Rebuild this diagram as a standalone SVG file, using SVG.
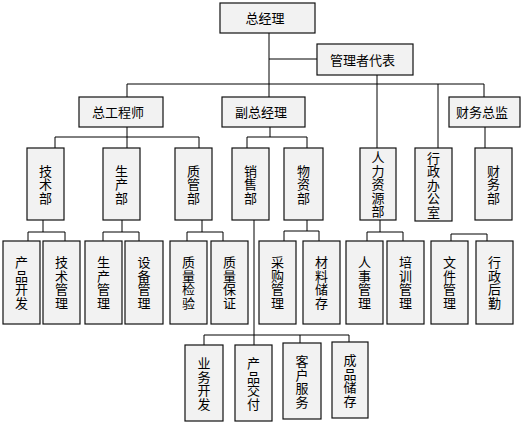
<svg xmlns="http://www.w3.org/2000/svg" width="526" height="423" viewBox="0 0 526 423">
<style>
.b{fill:#f2f2f2;stroke:#111;stroke-width:1.2}
.t{font-family:"Noto Sans CJK SC","Noto Sans",sans-serif;font-size:13px;fill:#000;text-anchor:middle}
.c{fill:none;stroke:#000;stroke-width:1}
</style>
<rect width="526" height="423" fill="#fff"/>
<g id="connectors" class="c">
<path d="M269 33V97M269 59H317M377 75V148M127 84H484M127 84V97M484 84V97M438 84V148"/>
<path d="M127 127V148M55 137H199M55 137V148M199 137V148"/>
<path d="M270 127V137M247 137H307M247 137V148M307 137V148"/>
<path d="M485 127V148"/>
<path d="M43 220V232M28 232H65M28 232V241M65 232V241"/>
<path d="M122 220V232M103 232H139M103 232V241M139 232V241"/>
<path d="M202 220V232M187 232H223M187 232V241M223 232V241"/>
<path d="M307 220V231M284 231H319M284 231V241M319 231V241"/>
<path d="M380 220V232M367 232H403M367 232V241M403 232V241"/>
<path d="M451 234H487M451 234V241M487 234V241"/>
<path d="M254 220V345M204 335H349M204 335V345M300 335V343M349 335V342"/>
</g>
<g id="n_gm"><rect class="b" x="220" y="3" width="95" height="30"/><text class="t" x="265" y="23">总经理</text></g>
<g id="n_rep"><rect class="b" x="317" y="44" width="96" height="31"/><text class="t" x="362.5" y="64.5">管理者代表</text></g>
<g id="n_cte"><rect class="b" x="79" y="97" width="84" height="30"/><text class="t" x="118" y="117">总工程师</text></g>
<g id="n_vgm"><rect class="b" x="222" y="97" width="83" height="30"/><text class="t" x="261" y="117">副总经理</text></g>
<g id="n_cfo"><rect class="b" x="449" y="97" width="71" height="30"/><text class="t" x="482" y="117">财务总监</text></g>

<g id="n_jsb"><rect class="b" x="27" y="148" width="37" height="72"/><text class="t" x="45.5" y="175.5"><tspan x="45.5">技</tspan><tspan x="45.5" dy="13.5">术</tspan><tspan x="45.5" dy="13.5">部</tspan></text></g>
<g id="n_scb"><rect class="b" x="103" y="148" width="37" height="72"/><text class="t" x="121.5" y="175.5"><tspan x="121.5">生</tspan><tspan x="121.5" dy="13.5">产</tspan><tspan x="121.5" dy="13.5">部</tspan></text></g>
<g id="n_zgb"><rect class="b" x="175" y="148" width="37" height="72"/><text class="t" x="193.5" y="175.5"><tspan x="193.5">质</tspan><tspan x="193.5" dy="13.5">管</tspan><tspan x="193.5" dy="13.5">部</tspan></text></g>
<g id="n_xsb"><rect class="b" x="232" y="148" width="37" height="72"/><text class="t" x="250.5" y="175.5"><tspan x="250.5">销</tspan><tspan x="250.5" dy="13.5">售</tspan><tspan x="250.5" dy="13.5">部</tspan></text></g>
<g id="n_wzb"><rect class="b" x="284" y="148" width="39" height="72"/><text class="t" x="303.5" y="175.5"><tspan x="303.5">物</tspan><tspan x="303.5" dy="13.5">资</tspan><tspan x="303.5" dy="13.5">部</tspan></text></g>
<g id="n_rlzyb"><rect class="b" x="360" y="148" width="36" height="72"/><text class="t" x="378" y="162"><tspan x="378">人</tspan><tspan x="378" dy="13.5">力</tspan><tspan x="378" dy="13.5">资</tspan><tspan x="378" dy="13.5">源</tspan><tspan x="378" dy="13.5">部</tspan></text></g>
<g id="n_xzbgs"><rect class="b" x="415" y="148" width="37" height="73"/><text class="t" x="433.5" y="162.5"><tspan x="433.5">行</tspan><tspan x="433.5" dy="13.5">政</tspan><tspan x="433.5" dy="13.5">办</tspan><tspan x="433.5" dy="13.5">公</tspan><tspan x="433.5" dy="13.5">室</tspan></text></g>
<g id="n_cwb"><rect class="b" x="475" y="148" width="37" height="72"/><text class="t" x="493.5" y="175.5"><tspan x="493.5">财</tspan><tspan x="493.5" dy="13.5">务</tspan><tspan x="493.5" dy="13.5">部</tspan></text></g>

<g id="n_cpkf"><rect class="b" x="3" y="241" width="37" height="83"/><text class="t" x="21.5" y="267"><tspan x="21.5">产</tspan><tspan x="21.5" dy="13.5">品</tspan><tspan x="21.5" dy="13.5">开</tspan><tspan x="21.5" dy="13.5">发</tspan></text></g>
<g id="n_jsgl"><rect class="b" x="43" y="241" width="37" height="83"/><text class="t" x="61.5" y="267"><tspan x="61.5">技</tspan><tspan x="61.5" dy="13.5">术</tspan><tspan x="61.5" dy="13.5">管</tspan><tspan x="61.5" dy="13.5">理</tspan></text></g>
<g id="n_scgl"><rect class="b" x="85" y="241" width="37" height="83"/><text class="t" x="103.5" y="267"><tspan x="103.5">生</tspan><tspan x="103.5" dy="13.5">产</tspan><tspan x="103.5" dy="13.5">管</tspan><tspan x="103.5" dy="13.5">理</tspan></text></g>
<g id="n_sbgl"><rect class="b" x="125" y="241" width="38" height="83"/><text class="t" x="144" y="267"><tspan x="144">设</tspan><tspan x="144" dy="13.5">备</tspan><tspan x="144" dy="13.5">管</tspan><tspan x="144" dy="13.5">理</tspan></text></g>
<g id="n_zljy"><rect class="b" x="170" y="241" width="37" height="83"/><text class="t" x="188.5" y="267"><tspan x="188.5">质</tspan><tspan x="188.5" dy="13.5">量</tspan><tspan x="188.5" dy="13.5">检</tspan><tspan x="188.5" dy="13.5">验</tspan></text></g>
<g id="n_zlbz"><rect class="b" x="211" y="241" width="37" height="83"/><text class="t" x="229.5" y="267"><tspan x="229.5">质</tspan><tspan x="229.5" dy="13.5">量</tspan><tspan x="229.5" dy="13.5">保</tspan><tspan x="229.5" dy="13.5">证</tspan></text></g>
<g id="n_cggl"><rect class="b" x="259" y="241" width="37" height="83"/><text class="t" x="277.5" y="267"><tspan x="277.5">采</tspan><tspan x="277.5" dy="13.5">购</tspan><tspan x="277.5" dy="13.5">管</tspan><tspan x="277.5" dy="13.5">理</tspan></text></g>
<g id="n_clcc"><rect class="b" x="303" y="241" width="37" height="83"/><text class="t" x="321.5" y="267"><tspan x="321.5">材</tspan><tspan x="321.5" dy="13.5">料</tspan><tspan x="321.5" dy="13.5">储</tspan><tspan x="321.5" dy="13.5">存</tspan></text></g>
<g id="n_rsgl"><rect class="b" x="346" y="241" width="37" height="83"/><text class="t" x="364.5" y="267"><tspan x="364.5">人</tspan><tspan x="364.5" dy="13.5">事</tspan><tspan x="364.5" dy="13.5">管</tspan><tspan x="364.5" dy="13.5">理</tspan></text></g>
<g id="n_pxgl"><rect class="b" x="387" y="241" width="37" height="83"/><text class="t" x="405.5" y="267"><tspan x="405.5">培</tspan><tspan x="405.5" dy="13.5">训</tspan><tspan x="405.5" dy="13.5">管</tspan><tspan x="405.5" dy="13.5">理</tspan></text></g>
<g id="n_wjgl"><rect class="b" x="431" y="241" width="37" height="83"/><text class="t" x="449.5" y="267"><tspan x="449.5">文</tspan><tspan x="449.5" dy="13.5">件</tspan><tspan x="449.5" dy="13.5">管</tspan><tspan x="449.5" dy="13.5">理</tspan></text></g>
<g id="n_xzhq"><rect class="b" x="476" y="241" width="37" height="83"/><text class="t" x="494.5" y="267"><tspan x="494.5">行</tspan><tspan x="494.5" dy="13.5">政</tspan><tspan x="494.5" dy="13.5">后</tspan><tspan x="494.5" dy="13.5">勤</tspan></text></g>

<g id="n_ywkf"><rect class="b" x="185" y="345" width="38" height="76"/><text class="t" x="204" y="368"><tspan x="204">业</tspan><tspan x="204" dy="13.5">务</tspan><tspan x="204" dy="13.5">开</tspan><tspan x="204" dy="13.5">发</tspan></text></g>
<g id="n_cpjf"><rect class="b" x="235" y="345" width="37" height="76"/><text class="t" x="253.5" y="368"><tspan x="253.5">产</tspan><tspan x="253.5" dy="13.5">品</tspan><tspan x="253.5" dy="13.5">交</tspan><tspan x="253.5" dy="13.5">付</tspan></text></g>
<g id="n_khfw"><rect class="b" x="283" y="343" width="38" height="76"/><text class="t" x="302" y="366"><tspan x="302">客</tspan><tspan x="302" dy="13.5">户</tspan><tspan x="302" dy="13.5">服</tspan><tspan x="302" dy="13.5">务</tspan></text></g>
<g id="n_cpcc"><rect class="b" x="332" y="342" width="36" height="76"/><text class="t" x="350" y="365"><tspan x="350">成</tspan><tspan x="350" dy="13.5">品</tspan><tspan x="350" dy="13.5">储</tspan><tspan x="350" dy="13.5">存</tspan></text></g>
</svg>
